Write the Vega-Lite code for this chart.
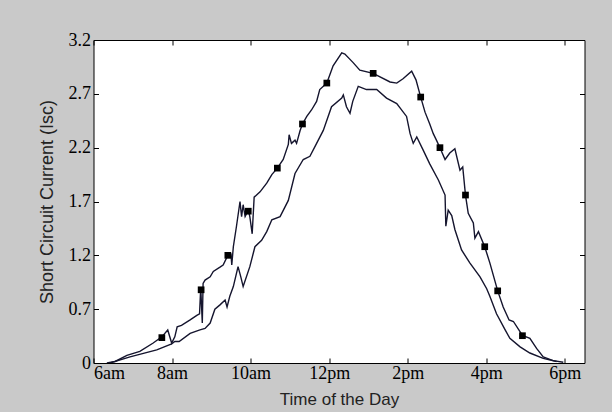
{
  "$schema": "https://vega.github.io/schema/vega-lite/v6.json",
  "width": 491,
  "height": 323,
  "autosize": {"type": "none"},
  "padding": {"left": 93.5, "top": 40, "right": 27.5, "bottom": 49},
  "background": "#c9c9c9",
  "view": {"fill": "white", "stroke": "black", "strokeWidth": 1},
  "config": {
    "axis": {"grid": false, "domain": false, "tickColor": "black", "tickSize": -5, "labelColor": "black", "labelFont": "Liberation Serif", "labelFontSize": 17, "titleFont": "Liberation Sans", "titleFontWeight": "normal", "titleColor": "#222222"}
  },
  "datasets": {
    "curves": [
      {"t": 6.34, "v": 0, "s": "upper"}, {"t": 6.55, "v": 0.02, "s": "upper"}, {"t": 6.85, "v": 0.1, "s": "upper"}, {"t": 7.18, "v": 0.15, "s": "upper"}, {"t": 7.52, "v": 0.26, "s": "upper"}, {"t": 7.74, "v": 0.34, "s": "upper"}, {"t": 7.89, "v": 0.43, "s": "upper"}, {"t": 7.99, "v": 0.26, "s": "upper"}, {"t": 8.07, "v": 0.34, "s": "upper"}, {"t": 8.13, "v": 0.47, "s": "upper"}, {"t": 8.24, "v": 0.49, "s": "upper"}, {"t": 8.46, "v": 0.56, "s": "upper"}, {"t": 8.63, "v": 0.62, "s": "upper"}, {"t": 8.7, "v": 0.64, "s": "upper"}, {"t": 8.73, "v": 0.9, "s": "upper"}, {"t": 8.77, "v": 0.52, "s": "upper"}, {"t": 8.79, "v": 0.94, "s": "upper"}, {"t": 8.84, "v": 0.97, "s": "upper"}, {"t": 8.97, "v": 1.0, "s": "upper"}, {"t": 9.05, "v": 1.05, "s": "upper"}, {"t": 9.22, "v": 1.09, "s": "upper"}, {"t": 9.3, "v": 1.11, "s": "upper"}, {"t": 9.42, "v": 1.2, "s": "upper"}, {"t": 9.5, "v": 1.21, "s": "upper"}, {"t": 9.52, "v": 1.11, "s": "upper"}, {"t": 9.56, "v": 1.28, "s": "upper"}, {"t": 9.64, "v": 1.47, "s": "upper"}, {"t": 9.73, "v": 1.7, "s": "upper"}, {"t": 9.77, "v": 1.56, "s": "upper"}, {"t": 9.81, "v": 1.67, "s": "upper"}, {"t": 9.86, "v": 1.56, "s": "upper"}, {"t": 9.94, "v": 1.62, "s": "upper"}, {"t": 9.98, "v": 1.56, "s": "upper"}, {"t": 10.04, "v": 1.4, "s": "upper"}, {"t": 10.09, "v": 1.74, "s": "upper"}, {"t": 10.24, "v": 1.79, "s": "upper"}, {"t": 10.41, "v": 1.87, "s": "upper"}, {"t": 10.54, "v": 1.95, "s": "upper"}, {"t": 10.68, "v": 2.01, "s": "upper"}, {"t": 10.83, "v": 2.09, "s": "upper"}, {"t": 10.96, "v": 2.23, "s": "upper"}, {"t": 10.98, "v": 2.32, "s": "upper"}, {"t": 11.04, "v": 2.24, "s": "upper"}, {"t": 11.13, "v": 2.27, "s": "upper"}, {"t": 11.17, "v": 2.24, "s": "upper"}, {"t": 11.26, "v": 2.36, "s": "upper"}, {"t": 11.32, "v": 2.42, "s": "upper"}, {"t": 11.43, "v": 2.49, "s": "upper"}, {"t": 11.55, "v": 2.55, "s": "upper"}, {"t": 11.68, "v": 2.63, "s": "upper"}, {"t": 11.76, "v": 2.74, "s": "upper"}, {"t": 11.94, "v": 2.8, "s": "upper"}, {"t": 12.1, "v": 2.96, "s": "upper"}, {"t": 12.32, "v": 3.08, "s": "upper"}, {"t": 12.4, "v": 3.07, "s": "upper"}, {"t": 12.61, "v": 2.99, "s": "upper"}, {"t": 12.78, "v": 2.92, "s": "upper"}, {"t": 13.12, "v": 2.89, "s": "upper"}, {"t": 13.55, "v": 2.81, "s": "upper"}, {"t": 13.72, "v": 2.8, "s": "upper"}, {"t": 13.88, "v": 2.84, "s": "upper"}, {"t": 14.1, "v": 2.91, "s": "upper"}, {"t": 14.21, "v": 2.83, "s": "upper"}, {"t": 14.33, "v": 2.67, "s": "upper"}, {"t": 14.44, "v": 2.53, "s": "upper"}, {"t": 14.56, "v": 2.42, "s": "upper"}, {"t": 14.65, "v": 2.33, "s": "upper"}, {"t": 14.73, "v": 2.27, "s": "upper"}, {"t": 14.82, "v": 2.2, "s": "upper"}, {"t": 14.95, "v": 2.09, "s": "upper"}, {"t": 15.07, "v": 2.15, "s": "upper"}, {"t": 15.2, "v": 2.19, "s": "upper"}, {"t": 15.33, "v": 1.99, "s": "upper"}, {"t": 15.4, "v": 2.02, "s": "upper"}, {"t": 15.47, "v": 1.76, "s": "upper"}, {"t": 15.54, "v": 1.59, "s": "upper"}, {"t": 15.67, "v": 1.5, "s": "upper"}, {"t": 15.71, "v": 1.36, "s": "upper"}, {"t": 15.8, "v": 1.42, "s": "upper"}, {"t": 15.96, "v": 1.28, "s": "upper"}, {"t": 16.09, "v": 1.13, "s": "upper"}, {"t": 16.29, "v": 0.87, "s": "upper"}, {"t": 16.43, "v": 0.72, "s": "upper"}, {"t": 16.58, "v": 0.56, "s": "upper"}, {"t": 16.69, "v": 0.54, "s": "upper"}, {"t": 16.92, "v": 0.36, "s": "upper"}, {"t": 17.11, "v": 0.32, "s": "upper"}, {"t": 17.28, "v": 0.19, "s": "upper"}, {"t": 17.45, "v": 0.08, "s": "upper"}, {"t": 17.7, "v": 0.03, "s": "upper"}, {"t": 17.96, "v": 0.01, "s": "upper"},
      {"t": 6.42, "v": 0, "s": "lower"}, {"t": 6.93, "v": 0.08, "s": "lower"}, {"t": 7.61, "v": 0.17, "s": "lower"}, {"t": 7.99, "v": 0.25, "s": "lower"}, {"t": 8.07, "v": 0.28, "s": "lower"}, {"t": 8.18, "v": 0.28, "s": "lower"}, {"t": 8.46, "v": 0.385, "s": "lower"}, {"t": 8.71, "v": 0.43, "s": "lower"}, {"t": 8.84, "v": 0.45, "s": "lower"}, {"t": 8.97, "v": 0.52, "s": "lower"}, {"t": 9.09, "v": 0.7, "s": "lower"}, {"t": 9.22, "v": 0.74, "s": "lower"}, {"t": 9.35, "v": 0.785, "s": "lower"}, {"t": 9.4, "v": 0.72, "s": "lower"}, {"t": 9.47, "v": 0.82, "s": "lower"}, {"t": 9.56, "v": 0.91, "s": "lower"}, {"t": 9.68, "v": 1.095, "s": "lower"}, {"t": 9.75, "v": 1.0, "s": "lower"}, {"t": 9.81, "v": 0.91, "s": "lower"}, {"t": 9.98, "v": 1.095, "s": "lower"}, {"t": 10.11, "v": 1.28, "s": "lower"}, {"t": 10.28, "v": 1.34, "s": "lower"}, {"t": 10.41, "v": 1.42, "s": "lower"}, {"t": 10.54, "v": 1.53, "s": "lower"}, {"t": 10.75, "v": 1.56, "s": "lower"}, {"t": 10.96, "v": 1.71, "s": "lower"}, {"t": 11.13, "v": 1.96, "s": "lower"}, {"t": 11.34, "v": 2.09, "s": "lower"}, {"t": 11.51, "v": 2.12, "s": "lower"}, {"t": 11.68, "v": 2.24, "s": "lower"}, {"t": 11.85, "v": 2.36, "s": "lower"}, {"t": 12.06, "v": 2.58, "s": "lower"}, {"t": 12.32, "v": 2.66, "s": "lower"}, {"t": 12.36, "v": 2.69, "s": "lower"}, {"t": 12.44, "v": 2.58, "s": "lower"}, {"t": 12.53, "v": 2.52, "s": "lower"}, {"t": 12.6, "v": 2.63, "s": "lower"}, {"t": 12.74, "v": 2.77, "s": "lower"}, {"t": 12.95, "v": 2.74, "s": "lower"}, {"t": 13.21, "v": 2.74, "s": "lower"}, {"t": 13.46, "v": 2.66, "s": "lower"}, {"t": 13.72, "v": 2.61, "s": "lower"}, {"t": 13.97, "v": 2.49, "s": "lower"}, {"t": 14.06, "v": 2.33, "s": "lower"}, {"t": 14.14, "v": 2.24, "s": "lower"}, {"t": 14.23, "v": 2.3, "s": "lower"}, {"t": 14.39, "v": 2.18, "s": "lower"}, {"t": 14.56, "v": 2.05, "s": "lower"}, {"t": 14.78, "v": 1.9, "s": "lower"}, {"t": 14.95, "v": 1.76, "s": "lower"}, {"t": 14.97, "v": 1.47, "s": "lower"}, {"t": 15.03, "v": 1.62, "s": "lower"}, {"t": 15.12, "v": 1.57, "s": "lower"}, {"t": 15.2, "v": 1.44, "s": "lower"}, {"t": 15.37, "v": 1.25, "s": "lower"}, {"t": 15.58, "v": 1.13, "s": "lower"}, {"t": 15.84, "v": 1.0, "s": "lower"}, {"t": 16.01, "v": 0.89, "s": "lower"}, {"t": 16.09, "v": 0.82, "s": "lower"}, {"t": 16.26, "v": 0.64, "s": "lower"}, {"t": 16.48, "v": 0.43, "s": "lower"}, {"t": 16.6, "v": 0.32, "s": "lower"}, {"t": 16.86, "v": 0.21, "s": "lower"}, {"t": 17.11, "v": 0.13, "s": "lower"}, {"t": 17.45, "v": 0.06, "s": "lower"}, {"t": 17.79, "v": 0.02, "s": "lower"}
    ],
    "markers": [
      {"t": 7.74, "v": 0.33}, {"t": 8.74, "v": 0.88}, {"t": 9.42, "v": 1.2}, {"t": 9.94, "v": 1.61}, {"t": 10.68, "v": 2.01}, {"t": 11.32, "v": 2.42}, {"t": 11.94, "v": 2.8}, {"t": 13.12, "v": 2.89}, {"t": 14.33, "v": 2.67}, {"t": 14.82, "v": 2.2}, {"t": 15.47, "v": 1.76}, {"t": 15.96, "v": 1.28}, {"t": 16.29, "v": 0.87}, {"t": 16.92, "v": 0.355}
    ]
  },
  "layer": [
    {
      "data": {"name": "curves"},
      "mark": {"type": "line", "color": "#15152e", "strokeWidth": 1.4, "clip": true},
      "encoding": {
        "x": {"field": "t", "type": "quantitative", "scale": {"domain": [6, 18.5], "nice": false, "zero": false},
              "axis": {"orient": "bottom", "values": [6, 8, 10, 12, 14, 16, 18], "labelPadding": 6, "labelFont": "Liberation Serif", "labelFontSize": 18, "title": "Time of the Day", "titleFont": "Liberation Sans", "titleFontSize": 17, "titlePadding": 9,
                       "labelExpr": "datum.value < 12 ? datum.value + 'am' : (datum.value == 12 ? '12pm' : (datum.value - 12) + 'pm')"}},
        "y": {"field": "v", "type": "quantitative", "scale": {"domain": [0, 0.7, 3.2], "range": [323, 269.17, 0], "nice": false, "zero": false},
              "axis": {"orient": "left", "values": [0, 0.7, 1.2, 1.7, 2.2, 2.7, 3.2], "labelPadding": 8, "labelFont": "Liberation Serif", "labelFontSize": 18, "labelExpr": "datum.value == 0 ? '0' : format(datum.value, '.1f')", "title": "Short Circuit Current (Isc)", "titleFont": "Liberation Sans", "titleFontSize": 18, "titlePadding": 12}},
        "detail": {"field": "s", "type": "nominal"}
      }
    },
    {
      "data": {"name": "markers"},
      "mark": {"type": "square", "color": "black", "filled": true, "opacity": 1, "size": 45},
      "encoding": {
        "x": {"field": "t", "type": "quantitative", "axis": {"orient": "top", "values": [6, 8, 10, 12, 14, 16, 18], "labels": false, "title": null}},
        "y": {"field": "v", "type": "quantitative", "axis": {"orient": "right", "values": [0, 0.7, 1.2, 1.7, 2.2, 2.7, 3.2], "labels": false, "title": null}}
      }
    }
  ],
  "resolve": {"axis": {"x": "independent", "y": "independent"}}
}
